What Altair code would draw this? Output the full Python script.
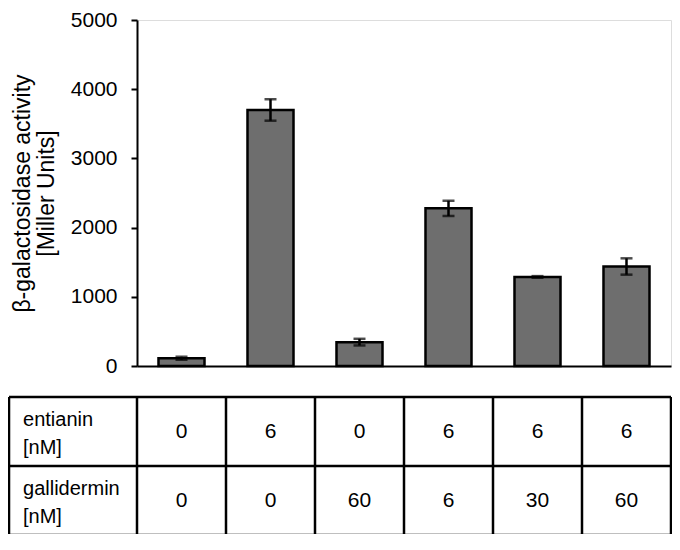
import altair as alt
import pandas as pd

# ---- data ----
conditions = ["c1", "c2", "c3", "c4", "c5", "c6"]
activity = [112, 3700, 345, 2278, 1287, 1438]
error = [22, 155, 48, 110, 12, 118]
entianin = ["0", "6", "0", "6", "6", "6"]
gallidermin = ["0", "0", "60", "6", "30", "60"]
row_labels = ["entianin\n[nM]", "gallidermin\n[nM]"]
y_ticks = [0, 1000, 2000, 3000, 4000, 5000]
y_title = ["β-galactosidase activity", "[Miller Units]"]

FONT = "Liberation Sans"
W, H = 534, 346
LABEL_COL_LEFT = -1.438  # left edge of the row-label column, in column units

df = pd.DataFrame({
    "cond": conditions,
    "activity": activity,
    "lo": [a - e for a, e in zip(activity, error)],
    "hi": [a + e for a, e in zip(activity, error)],
})

xband = alt.X("cond:N", sort=conditions,
              scale=alt.Scale(paddingInner=0.483, paddingOuter=0.2415),
              axis=alt.Axis(labels=False, ticks=False, title=None,
                            domainColor="black", domainWidth=2))
yscale = alt.Scale(domain=[0, 5000], nice=False)

bars = alt.Chart(df).mark_bar(fill="#6e6e6e", stroke="black", strokeWidth=2.5).encode(
    x=xband,
    y=alt.Y("activity:Q", scale=yscale,
            axis=alt.Axis(values=y_ticks, format="d", title=y_title, grid=False,
                          tickSize=6, tickWidth=2, tickColor="black",
                          domainWidth=2, domainColor="black",
                          labelFontSize=21, labelPadding=14, labelColor="black",
                          labelFont=FONT, titleFont=FONT, titleFontSize=23,
                          titleFontWeight="normal", titleColor="black",
                          titleLineHeight=24, titlePadding=12)),
)
err = alt.Chart(df).mark_rule(color="black", strokeWidth=2.5).encode(
    x=alt.X("cond:N", sort=conditions), y=alt.Y("lo:Q", scale=yscale), y2="hi:Q")
cap_lo = alt.Chart(df).mark_tick(color="black", thickness=2.5, size=12).encode(
    x=alt.X("cond:N", sort=conditions), y=alt.Y("lo:Q", scale=yscale))
cap_hi = alt.Chart(df).mark_tick(color="black", thickness=2.5, size=12).encode(
    x=alt.X("cond:N", sort=conditions), y=alt.Y("hi:Q", scale=yscale))

plot = alt.layer(bars, err, cap_lo, cap_hi)

# ---- table below the plot ----
tx = alt.Scale(domain=[0, 6], range=[0, W], nice=False, zero=False)
ty = alt.Scale(domain=[0, 2], range=[377, 515], nice=False, zero=False)

hl = pd.DataFrame({"y": [0, 1, 2], "x": [LABEL_COL_LEFT] * 3, "x2": [6] * 3})
vl = pd.DataFrame({"x": [LABEL_COL_LEFT] + list(range(7)), "y": [0] * 8, "y2": [2] * 8})

cells = pd.DataFrame({
    "x": [i + 0.5 for i in range(6)] * 2,
    "y": [0.5] * 6 + [1.5] * 6,
    "t": entianin + gallidermin,
})
labs = pd.DataFrame({"x": [LABEL_COL_LEFT] * 2, "y": [0.5, 1.5], "t": row_labels})

hrules = alt.Chart(hl).mark_rule(color="black", strokeWidth=2.5).encode(
    x=alt.X("x:Q", scale=tx, axis=None), x2="x2:Q",
    y=alt.Y("y:Q", scale=ty, axis=None))
vrules = alt.Chart(vl).mark_rule(color="black", strokeWidth=2.5).encode(
    x=alt.X("x:Q", scale=tx, axis=None),
    y=alt.Y("y:Q", scale=ty, axis=None), y2="y2:Q")
vals = alt.Chart(cells).mark_text(font=FONT, fontSize=21, color="black",
                                  align="center", baseline="middle").encode(
    x=alt.X("x:Q", scale=tx, axis=None), y=alt.Y("y:Q", scale=ty, axis=None), text="t:N")
labels = alt.Chart(labs).mark_text(font=FONT, fontSize=20, color="black", align="left",
                                   baseline="middle", dx=14, dy=-12, lineBreak="\n",
                                   lineHeight=28).encode(
    x=alt.X("x:Q", scale=tx, axis=None), y=alt.Y("y:Q", scale=ty, axis=None), text="t:N")

table = alt.layer(hrules, vrules, vals, labels)

chart = alt.layer(plot, table).resolve_scale(x="independent", y="independent").properties(
    width=W, height=H,
    padding={"left": 129, "top": 12, "right": 1, "bottom": 168},
    autosize=alt.AutoSizeParams(type="none"),
).configure_view(stroke=None).configure(font=FONT)

chart.save("out.html", embed_options={"renderer": "svg", "actions": False})
